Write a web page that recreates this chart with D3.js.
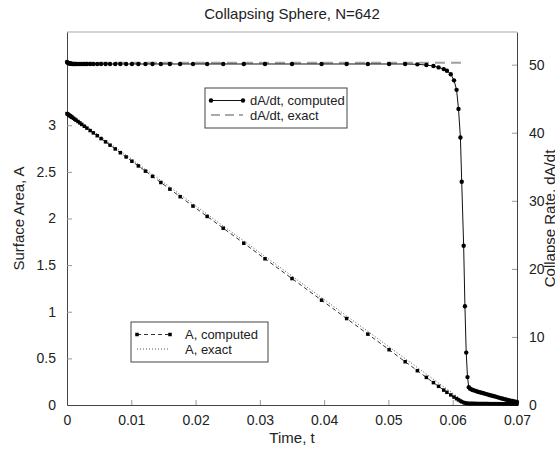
<!DOCTYPE html>
<html>
<head>
<meta charset="utf-8">
<script src="https://cdn.jsdelivr.net/npm/d3@7"></script>
<style>
  body { margin: 0; background: #fff; }
  text { font-family: "Liberation Sans", Arial, sans-serif; fill: #222; }
</style>
</head>
<body>
<div id="chart"></div>
<script>
// Output times of the computed run (shared by A and dA/dt)
const timeComputed = [0, 0.0001, 0.0002, 0.0003, 0.0004, 0.0005, 0.0006, 0.0007, 0.0008,
  0.001, 0.0012, 0.0014, 0.0017, 0.002, 0.0023, 0.0027, 0.0031, 0.0036, 0.0041, 0.0047,
  0.0053, 0.006, 0.0067, 0.0075, 0.0083, 0.0092,
  0.0101, 0.0111, 0.0122, 0.0133, 0.0146, 0.016, 0.0176, 0.0196, 0.0218, 0.0243, 0.0275,
  0.0308, 0.035, 0.0396, 0.0435, 0.0468, 0.0501,
  0.0526, 0.0545, 0.0559, 0.057, 0.0578, 0.0586, 0.0591, 0.0597, 0.0602, 0.0606, 0.0609,
  0.0612, 0.0614, 0.0617, 0.0619, 0.0621, 0.0623, 0.0625,
  0.0627, 0.0629, 0.0631, 0.0633, 0.0636, 0.0639, 0.0642, 0.0645, 0.0648, 0.0651, 0.0654,
  0.0657, 0.066, 0.0663, 0.0666, 0.0669, 0.0672, 0.0675, 0.0678, 0.0681, 0.0684, 0.0687,
  0.069, 0.0693, 0.0696, 0.0699, 0.07];

// Surface area, computed
const areaComputed = [3.125, 3.120, 3.115, 3.110, 3.105, 3.100, 3.095, 3.090, 3.085,
  3.075, 3.065, 3.055, 3.040, 3.025, 3.009, 2.989, 2.969, 2.943, 2.918, 2.888,
  2.857, 2.822, 2.786, 2.746, 2.705, 2.660,
  2.614, 2.564, 2.508, 2.452, 2.386, 2.315, 2.234, 2.133, 2.022, 1.896, 1.735,
  1.568, 1.356, 1.124, 0.927, 0.760, 0.593,
  0.464, 0.368, 0.296, 0.240, 0.200, 0.160, 0.136, 0.108, 0.085, 0.068, 0.055,
  0.043, 0.035, 0.027, 0.022, 0.019, 0.017, 0.016,
  0.016, 0.016, 0.016, 0.016, 0.016, 0.015, 0.015, 0.015, 0.015, 0.015, 0.015,
  0.014, 0.014, 0.014, 0.014, 0.014, 0.014, 0.013, 0.013, 0.013, 0.013, 0.013,
  0.012, 0.012, 0.012, 0.012, 0.012];

// Collapse rate, computed
const rateComputed = [50.4, 50.3, 50.25, 50.2, 50.2, 50.15, 50.15, 50.15, 50.1,
  50.1, 50.1, 50.1, 50.1, 50.1, 50.1, 50.1, 50.1, 50.1, 50.1, 50.1,
  50.1, 50.1, 50.1, 50.1, 50.1, 50.1,
  50.1, 50.1, 50.1, 50.1, 50.1, 50.1, 50.1, 50.1, 50.1, 50.1, 50.1,
  50.1, 50.1, 50.1, 50.1, 50.1, 50.1,
  50.1, 50.05, 49.95, 49.8, 49.6, 49.35, 49.1, 48.6, 47.7, 46.3, 43.5,
  39.3, 32.8, 23.4, 14.5, 7.7, 4.1, 2.6,
  2.4, 2.3, 2.2, 2.15, 2.05, 1.95, 1.88, 1.8, 1.72, 1.64, 1.56,
  1.48, 1.4, 1.32, 1.24, 1.16, 1.08, 1.0, 0.92, 0.85, 0.78, 0.71,
  0.64, 0.58, 0.52, 0.46, 0.44];

// Exact solutions
const timeExactArea = [0, 0.0625, 0.07];
const areaExact = [3.1416, 0, 0];
const timeExactRate = [0, 0.062];
const rateExact = [50.27, 50.27];

const xTicks = [0, 0.01, 0.02, 0.03, 0.04, 0.05, 0.06, 0.07];
const areaTicks = [0, 0.5, 1, 1.5, 2, 2.5, 3];
const rateTicks = [0, 10, 20, 30, 40, 50];

const W = 555, H = 451;
const margin = {top: 32, right: 38, bottom: 46, left: 67};
const width = W - margin.left - margin.right,
  height = H - margin.top - margin.bottom;

const svg = d3.select("#chart")
  .append("svg")
  .attr("width", W)
  .attr("height", H);

const g = svg.append("g")
  .attr("transform", `translate(${margin.left},${margin.top})`);

const x = d3.scaleLinear().domain([0, 0.07]).range([0, width]);
const yA = d3.scaleLinear().domain([0, 4]).range([height, 0]);
const yR = d3.scaleLinear().domain([0, 54.8]).range([height, 0]);

// top frame line (light grey)
g.append("line")
  .attr("x1", 0).attr("x2", width)
  .attr("y1", 0).attr("y2", 0)
  .attr("stroke", "#a8a8a8");

// Axes
function styleAxis(sel) {
  sel.select(".domain").attr("stroke", "#444");
  sel.selectAll(".tick line").attr("stroke", "#999");
  sel.selectAll(".tick text").style("font-size", "14px").attr("fill", "#222");
}

g.append("g")
  .attr("transform", `translate(0,${height})`)
  .call(d3.axisBottom(x).tickValues(xTicks).tickSizeInner(-5).tickSizeOuter(0)
    .tickPadding(10).tickFormat(d3.format("")))
  .call(styleAxis)
  .call(a => a.selectAll(".tick line").filter(d => d === 0 || d === 0.07).remove());

g.append("g")
  .call(d3.axisLeft(yA).tickValues(areaTicks).tickSizeInner(-5).tickSizeOuter(0)
    .tickPadding(11).tickFormat(d3.format("")))
  .call(styleAxis)
  .call(a => a.selectAll(".tick line").filter(d => d === 0).remove());

g.append("g")
  .attr("transform", `translate(${width},0)`)
  .call(d3.axisRight(yR).tickValues(rateTicks).tickSizeInner(-5).tickSizeOuter(0)
    .tickPadding(12))
  .call(styleAxis)
  .call(a => a.selectAll(".tick line").filter(d => d === 0).remove());

// Axis titles
svg.append("text")
  .attr("x", margin.left + width / 2)
  .attr("y", 19)
  .attr("text-anchor", "middle")
  .style("font-size", "15px")
  .text("Collapsing Sphere, N=642");

svg.append("text")
  .attr("x", margin.left + width / 2)
  .attr("y", 443)
  .attr("text-anchor", "middle")
  .style("font-size", "15px")
  .text("Time, t");

svg.append("text")
  .attr("transform", `translate(24,${margin.top + height / 2}) rotate(-90)`)
  .attr("text-anchor", "middle")
  .style("font-size", "15px")
  .text("Surface Area, A");

svg.append("text")
  .attr("transform", `translate(555,${margin.top + height / 2}) rotate(-90)`)
  .attr("text-anchor", "middle")
  .style("font-size", "15px")
  .text("Collapse Rate, dA/dt");

// Series
const areaC = timeComputed.map((t, i) => [t, areaComputed[i]]);
const rateC = timeComputed.map((t, i) => [t, rateComputed[i]]);
const areaE = timeExactArea.map((t, i) => [t, areaExact[i]]);
const rateE = timeExactRate.map((t, i) => [t, rateExact[i]]);

const lineA = d3.line().x(d => x(d[0])).y(d => yA(d[1]));
const lineR = d3.line().x(d => x(d[0])).y(d => yR(d[1]));

g.append("path").datum(rateE)
  .attr("d", lineR)
  .attr("fill", "none")
  .attr("stroke", "#a0a0a0")
  .attr("stroke-width", 2)
  .attr("stroke-dasharray", "10,6");

g.append("path").datum(areaE)
  .attr("d", lineA)
  .attr("fill", "none")
  .attr("stroke", "#555")
  .attr("stroke-dasharray", "1,2");

g.append("path").datum(areaC)
  .attr("d", lineA)
  .attr("fill", "none")
  .attr("stroke", "#333")
  .attr("stroke-dasharray", "4,3");

g.append("g").selectAll("rect")
  .data(areaC)
  .join("rect")
  .attr("x", d => x(d[0]) - 1.75)
  .attr("y", d => yA(d[1]) - 1.75)
  .attr("width", 3.5)
  .attr("height", 3.5)
  .attr("fill", "#000");

g.append("path").datum(rateC)
  .attr("d", lineR)
  .attr("fill", "none")
  .attr("stroke", "#111")
  .attr("stroke-width", 1);

g.append("g").selectAll("circle")
  .data(rateC)
  .join("circle")
  .attr("cx", d => x(d[0]))
  .attr("cy", d => yR(d[1]))
  .attr("r", 2.2)
  .attr("fill", "#000");

// Legends
function legend(left, top, w, rows) {
  const lg = svg.append("g").attr("transform", `translate(${left},${top})`);
  lg.append("rect")
    .attr("width", w).attr("height", 40)
    .attr("fill", "#fff").attr("stroke", "#444");
  rows.forEach((r, i) => {
    const yy = 12.5 + i * 14.5;
    lg.append("line")
      .attr("x1", r.x1).attr("x2", r.x2)
      .attr("y1", yy).attr("y2", yy)
      .attr("stroke", r.stroke)
      .attr("stroke-width", r.sw || 1)
      .attr("stroke-dasharray", r.dash || null);
    if (r.marker === "circle") {
      [r.x1, r.x2].forEach(mx => lg.append("circle")
        .attr("cx", mx).attr("cy", yy).attr("r", 2.2).attr("fill", "#000"));
    }
    if (r.marker === "square") {
      [r.x1, r.x2].forEach(mx => lg.append("rect")
        .attr("x", mx - 1.75).attr("y", yy - 1.75)
        .attr("width", 3.5).attr("height", 3.5).attr("fill", "#000"));
    }
    lg.append("text")
      .attr("x", r.tx).attr("y", yy + 4.5)
      .style("font-size", "13px")
      .text(r.label);
  });
}

legend(205, 88, 142, [
  {x1: 6, x2: 38, stroke: "#111", marker: "circle", tx: 45, label: "dA/dt, computed"},
  {x1: 6, x2: 38, stroke: "#555", dash: "9,5", tx: 45, label: "dA/dt, exact"}
]);

legend(131, 322, 137, [
  {x1: 6, x2: 39, stroke: "#333", dash: "4,3", marker: "square", tx: 54, label: "A, computed"},
  {x1: 6, x2: 39, stroke: "#555", dash: "1,2", tx: 54, label: "A, exact"}
]);
</script>
</body>
</html>
